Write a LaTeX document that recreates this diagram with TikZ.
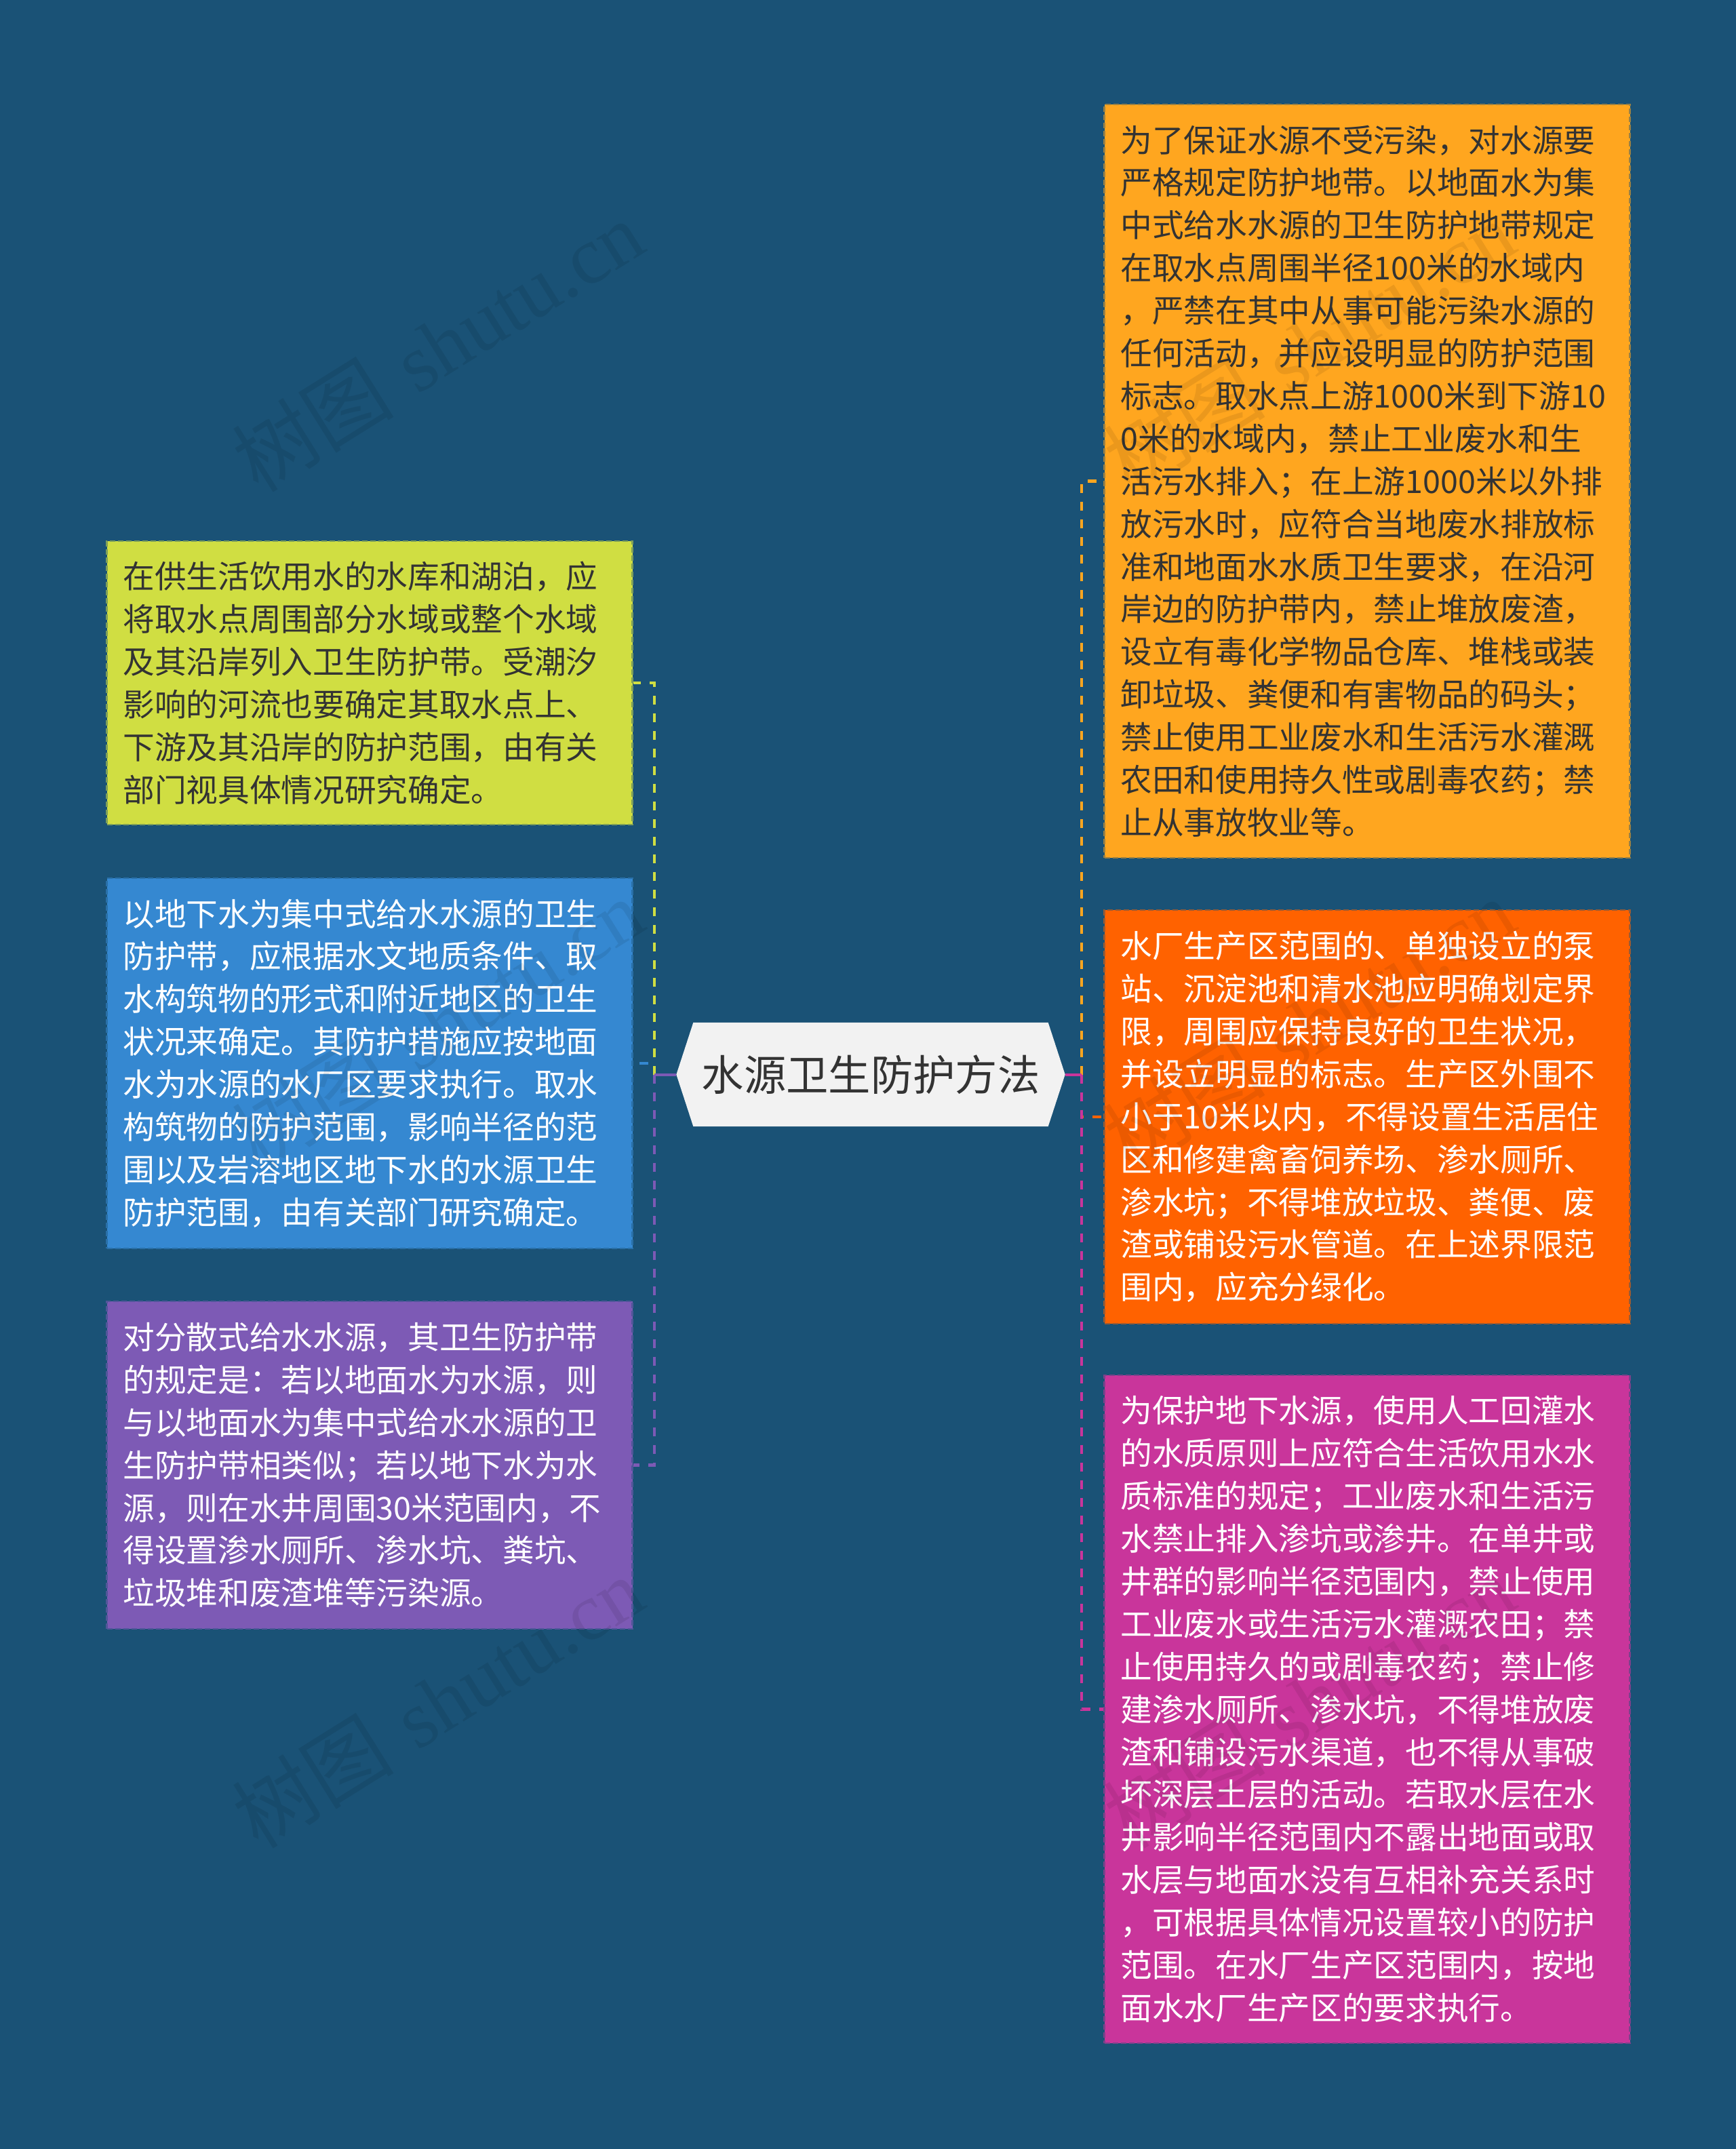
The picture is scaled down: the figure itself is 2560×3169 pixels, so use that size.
\documentclass[tikz,border=0pt]{standalone}
\usepackage{fontspec}
\newfontfamily\cjk{Noto Sans CJK SC}
\newfontfamily\wmserif{Liberation Serif}
\definecolor{bgc}{HTML}{1A5276}
\definecolor{cfill}{HTML}{F2F2F2}
\definecolor{ctext}{HTML}{333333}
\definecolor{tdark}{HTML}{333333}
\definecolor{cyel}{HTML}{D0DE42}
\definecolor{cblu}{HTML}{3588D1}
\definecolor{cpur}{HTML}{7D5AB5}
\definecolor{corg}{HTML}{FFA61F}
\definecolor{cred}{HTML}{FF6200}
\definecolor{cmag}{HTML}{C9359B}
\pgfdeclarelayer{bglayer}
\pgfsetlayers{bglayer,main}
\tikzset{
  textbox/.style={rectangle, inner xsep=7.2pt, inner ysep=0pt, text width=218.1pt,
    minimum width=232.5pt, align=left, font=\cjk\fontsize{14pt}{18.87pt}\selectfont,
    dash pattern=on 2.4pt off 1.2pt, line width=0.8pt},
  centernode/.style={rectangle, inner sep=0pt, minimum width=171.6pt, minimum height=45.6pt,
    text=ctext, font=\cjk\fontsize{18.7pt}{22pt}\selectfont},
  linkline/.style={line width=1.3pt, dash pattern=on 3.9pt off 3.9pt},
  linkstub/.style={line width=1.2pt},
  wmark/.style={text=black, text opacity=0.08, inner sep=0pt, rotate=32,
    font=\fontsize{36pt}{40pt}\selectfont}
}
\begin{document}
\begin{tikzpicture}[x=0.3pt,y=-0.3pt]
\begin{pgfonlayer}{bglayer}
\fill[bgc] (0,0) rectangle (2560,3169);
\end{pgfonlayer}
\useasboundingbox (0,0) rectangle (2560,3169);

% center
\node[centernode] (c) at (1284,1584.5) {水源卫生防护方法};
\begin{pgfonlayer}{bglayer}
\fill[cfill] (c.west) -- ([xshift=7.5pt]c.north west) -- ([xshift=-7.5pt]c.north east) -- (c.east)
  -- ([xshift=-7.5pt]c.south east) -- ([xshift=7.5pt]c.south west) -- cycle;
\end{pgfonlayer}

% left boxes
\node[textbox, fill=cyel, draw=cyel!55!bgc, text=tdark, minimum height=125.4pt] (yel) at (545,1007) {在供生活饮用水的水库和湖泊，应\\将取水点周围部分水域或整个水域\\及其沿岸列入卫生防护带。受潮汐\\影响的河流也要确定其取水点上、\\下游及其沿岸的防护范围，由有关\\部门视具体情况研究确定。};

\node[textbox, fill=cblu, draw=cblu!55!bgc, text=white, minimum height=163.8pt] (blu) at (545,1568) {以地下水为集中式给水水源的卫生\\防护带，应根据水文地质条件、取\\水构筑物的形式和附近地区的卫生\\状况来确定。其防护措施应按地面\\水为水源的水厂区要求执行。取水\\构筑物的防护范围，影响半径的范\\围以及岩溶地区地下水的水源卫生\\防护范围，由有关部门研究确定。};

\node[textbox, fill=cpur, draw=cpur!55!bgc, text=white, minimum height=144.9pt] (pur) at (545,2160.5) {对分散式给水水源，其卫生防护带\\的规定是：若以地面水为水源，则\\与以地面水为集中式给水水源的卫\\生防护带相类似；若以地下水为水\\源，则在水井周围30米范围内，不\\得设置渗水厕所、渗水坑、粪坑、\\垃圾堆和废渣堆等污染源。};

% right boxes
\node[textbox, fill=corg, draw=corg!55!bgc, text=tdark, minimum height=333.3pt] (org) at (2016,709.5) {为了保证水源不受污染，对水源要\\严格规定防护地带。以地面水为集\\中式给水水源的卫生防护地带规定\\在取水点周围半径100米的水域内\\，严禁在其中从事可能污染水源的\\任何活动，并应设明显的防护范围\\标志。取水点上游1000米到下游10\\0米的水域内，禁止工业废水和生\\活污水排入；在上游1000米以外排\\放污水时，应符合当地废水排放标\\准和地面水水质卫生要求，在沿河\\岸边的防护带内，禁止堆放废渣，\\设立有毒化学物品仓库、堆栈或装\\卸垃圾、粪便和有害物品的码头；\\禁止使用工业废水和生活污水灌溉\\农田和使用持久性或剧毒农药；禁\\止从事放牧业等。};

\node[textbox, fill=cred, draw=cred!55!bgc, text=white, minimum height=183pt] (red) at (2016,1647) {水厂生产区范围的、单独设立的泵\\站、沉淀池和清水池应明确划定界\\限，周围应保持良好的卫生状况，\\并设立明显的标志。生产区外围不\\小于10米以内，不得设置生活居住\\区和修建禽畜饲养场、渗水厕所、\\渗水坑；不得堆放垃圾、粪便、废\\渣或铺设污水管道。在上述界限范\\围内，应充分绿化。};

\node[textbox, fill=cmag, draw=cmag!55!bgc, text=white, minimum height=295.5pt] (mag) at (2016,2520.5) {为保护地下水源，使用人工回灌水\\的水质原则上应符合生活饮用水水\\质标准的规定；工业废水和生活污\\水禁止排入渗坑或渗井。在单井或\\井群的影响半径范围内，禁止使用\\工业废水或生活污水灌溉农田；禁\\止使用持久的或剧毒农药；禁止修\\建渗水厕所、渗水坑，不得堆放废\\渣和铺设污水渠道，也不得从事破\\坏深层土层的活动。若取水层在水\\井影响半径范围内不露出地面或取\\水层与地面水没有互相补充关系时\\，可根据具体情况设置较小的防护\\范围。在水厂生产区范围内，按地\\面水水厂生产区的要求执行。};

% connectors
\coordinate (LT) at (965,1584.5);
\coordinate (RT) at (1595,1584.5);
\draw[linkline, cblu] (LT) |- (blu.east);
\draw[linkline, cyel] (LT) |- (yel.east);
\draw[linkline, cpur] (LT) |- (pur.east);
\draw[linkstub, cpur] (c.west) -- (LT);
\draw[linkline, cred] (RT) |- (red.west);
\draw[linkline, cmag] (RT) |- (mag.west);
\draw[linkline, corg] (RT) |- (org.west);
\draw[linkstub, cmag] (c.east) -- (RT);

% watermarks
\node[wmark] (wm1) at (645,510) {{\cjk 树图} {\wmserif shutu.cn}};
\node[wmark] (wm2) at (645,1510) {{\cjk 树图} {\wmserif shutu.cn}};
\node[wmark] (wm3) at (645,2510) {{\cjk 树图} {\wmserif shutu.cn}};
\node[wmark] (wm4) at (1930,510) {{\cjk 树图} {\wmserif shutu.cn}};
\node[wmark] (wm5) at (1930,1510) {{\cjk 树图} {\wmserif shutu.cn}};
\node[wmark] (wm6) at (1930,2510) {{\cjk 树图} {\wmserif shutu.cn}};
\end{tikzpicture}
\end{document}
